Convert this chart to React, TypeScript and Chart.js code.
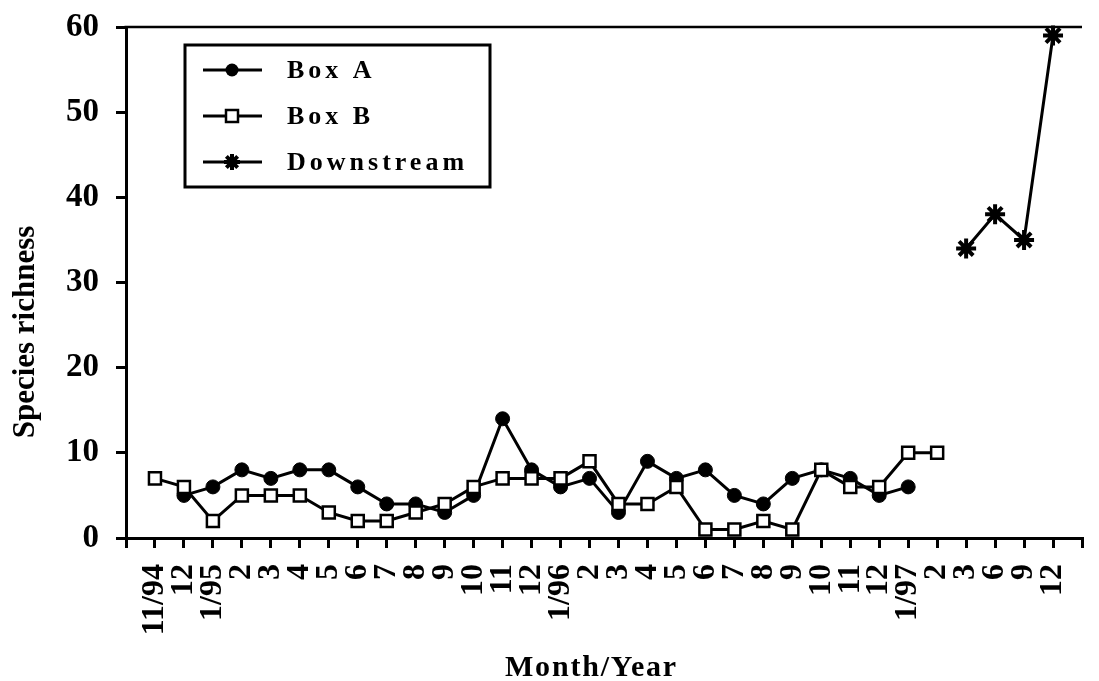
import React, { useEffect, useRef } from 'react';
import { Chart, registerables } from 'chart.js';

Chart.register(...registerables);

// ---- data ----
const categories: string[] = [
  '', '11/94', '12', '1/95', '2', '3', '4', '5', '6', '7', '8', '9', '10', '11', '12',
  '1/96', '2', '3', '4', '5', '6', '7', '8', '9', '10', '11', '12',
  '1/97', '2', '3', '6', '9', '12', '',
];

const boxA: (number | null)[] = [
  null, null, 5, 6, 8, 7, 8, 8, 6, 4, 4, 3, 5, 14, 8,
  6, 7, 3, 9, 7, 8, 5, 4, 7, 8, 7, 5,
  6, null, null, null, null, null, null,
];

const boxB: (number | null)[] = [
  null, 7, 6, 2, 5, 5, 5, 3, 2, 2, 3, 4, 6, 7, 7,
  7, 9, 4, 4, 6, 1, 1, 2, 1, 8, 6, 6,
  10, 10, null, null, null, null, null,
];

const downstream: (number | null)[] = [
  null, null, null, null, null, null, null, null, null, null, null, null, null, null, null,
  null, null, null, null, null, null, null, null, null, null, null, null,
  null, null, 34, 38, 35, 59, null,
];

const seriesNames = ['Box A', 'Box B', 'Downstream'];
const yMin = 0;
const yMax = 60;
const yStep = 10;
const xTitle = 'Month/Year';
const yTitle = 'Species richness';

const FONT = '"Liberation Serif", "Times New Roman", serif';

function drawMarker(ctx: CanvasRenderingContext2D, style: string, x: number, y: number, r: number) {
  ctx.save();
  ctx.strokeStyle = '#000';
  if (style === 'circle') {
    ctx.fillStyle = '#000';
    ctx.beginPath();
    ctx.arc(x, y, r, 0, Math.PI * 2);
    ctx.fill();
  } else if (style === 'rect') {
    ctx.fillStyle = '#fff';
    ctx.lineWidth = 2.5;
    ctx.beginPath();
    ctx.rect(x - r, y - r, 2 * r, 2 * r);
    ctx.fill();
    ctx.stroke();
  } else {
    ctx.lineWidth = 4;
    ctx.beginPath();
    for (let k = 0; k < 4; k++) {
      const a = (k * Math.PI) / 4;
      ctx.moveTo(x - Math.cos(a) * r, y - Math.sin(a) * r);
      ctx.lineTo(x + Math.cos(a) * r, y + Math.sin(a) * r);
    }
    ctx.stroke();
  }
  ctx.restore();
}

const decorPlugin = {
  id: 'decor',
  afterDraw(chart: any) {
    const { ctx, chartArea: ca } = chart;
    ctx.save();
    // top frame line
    ctx.strokeStyle = '#000';
    ctx.lineWidth = 2.5;
    ctx.beginPath();
    ctx.moveTo(ca.left - 1.5, ca.top);
    ctx.lineTo(ca.right, ca.top);
    ctx.stroke();

    // legend box
    const lx = 185, ly = 45, lw = 305, lh = 142;
    ctx.lineWidth = 3;
    ctx.fillStyle = '#fff';
    ctx.fillRect(lx, ly, lw, lh);
    ctx.strokeRect(lx, ly, lw, lh);
    const styles = ['circle', 'rect', 'star'];
    const sizes = [6.5, 6, 8];
    const rows = [70, 116, 162];
    ctx.font = `bold 26px ${FONT}`;
    (ctx as any).letterSpacing = '4px';
    ctx.textBaseline = 'middle';
    ctx.textAlign = 'left';
    seriesNames.forEach((name, i) => {
      const y = rows[i];
      ctx.lineWidth = 3;
      ctx.beginPath();
      ctx.moveTo(203, y);
      ctx.lineTo(262, y);
      ctx.stroke();
      drawMarker(ctx, styles[i], 232, y, sizes[i]);
      ctx.fillStyle = '#000';
      ctx.fillText(name, 287, y + 1);
    });

    // x title
    ctx.font = `bold 30px ${FONT}`;
    (ctx as any).letterSpacing = '1.8px';
    ctx.textBaseline = 'alphabetic';
    ctx.textAlign = 'left';
    ctx.fillStyle = '#000';
    ctx.fillText(xTitle, 505, 676);

    // y title
    (ctx as any).letterSpacing = '0px';
    ctx.font = `bold 31px ${FONT}`;
    ctx.translate(34, 332);
    ctx.rotate(-Math.PI / 2);
    ctx.textAlign = 'center';
    ctx.fillText(yTitle, 0, 0);
    ctx.restore();
  },
};

export default function App() {
  const ref = useRef<HTMLCanvasElement | null>(null);
  useEffect(() => {
    if (!ref.current) return;
    const tickFontX = { family: FONT, size: 32, weight: 'bold' as const };
    const tickFontY = { family: FONT, size: 33, weight: 'bold' as const };
    const gridCfg = {
      drawOnChartArea: false,
      drawTicks: true,
      tickLength: 10,
      tickWidth: 3,
      tickColor: '#000',
      color: '#000',
      lineWidth: 3,
    };
    const chart = new Chart(ref.current, {
      type: 'line',
      data: {
        labels: categories,
        datasets: [
          {
            label: seriesNames[0],
            data: boxA,
            borderColor: '#000',
            backgroundColor: '#000',
            borderWidth: 3,
            pointStyle: 'circle',
            pointRadius: 7,
            pointBorderWidth: 1,
            pointBackgroundColor: '#000',
            pointBorderColor: '#000',
            spanGaps: false,
            order: 2,
            clip: false as any,
          },
          {
            label: seriesNames[1],
            data: boxB,
            borderColor: '#000',
            backgroundColor: '#fff',
            borderWidth: 3,
            pointStyle: 'rect',
            pointRadius: 8.5,
            pointBorderWidth: 2.5,
            pointBackgroundColor: '#fff',
            pointBorderColor: '#000',
            spanGaps: false,
            order: 1,
            clip: false as any,
          },
          {
            label: seriesNames[2],
            data: downstream,
            borderColor: '#000',
            backgroundColor: '#000',
            borderWidth: 3,
            pointStyle: 'star',
            pointRadius: 10,
            pointBorderWidth: 4,
            pointBackgroundColor: '#000',
            pointBorderColor: '#000',
            spanGaps: false,
            order: 0,
            clip: false as any,
          },
        ],
      },
      options: {
        responsive: false,
        animation: false,
        layout: { padding: { top: 27, right: 17, left: 0, bottom: 0 } },
        elements: { line: { tension: 0 } },
        plugins: {
          legend: { display: false },
          tooltip: { enabled: false },
          title: { display: false },
        },
        scales: {
          x: {
            type: 'category',
            offset: false,
            grid: gridCfg,
            border: { display: true, color: '#000', width: 3 },
            ticks: {
              autoSkip: false,
              minRotation: 90,
              maxRotation: 90,
              padding: 16,
              color: '#000',
              font: tickFontX,
            },
            afterFit: (s: any) => {
              s.height = 143;
              s.paddingLeft = 0;
              s.paddingRight = 0;
            },
          },
          y: {
            min: yMin,
            max: yMax,
            grid: gridCfg,
            border: { display: true, color: '#000', width: 3 },
            ticks: {
              stepSize: yStep,
              padding: 17,
              color: '#000',
              font: tickFontY,
            },
            afterFit: (s: any) => {
              s.width = 126;
              s.paddingTop = 0;
              s.paddingBottom = 0;
            },
          },
        },
      },
      plugins: [decorPlugin],
    } as any);
    return () => chart.destroy();
  }, []);
  return (
    <div style={{ position: 'fixed', left: 0, top: 0, width: 1099, height: 681, background: '#fff' }}>
      <canvas ref={ref} width={1099} height={681} style={{ width: 1099, height: 681, display: 'block' }} />
    </div>
  );
}
